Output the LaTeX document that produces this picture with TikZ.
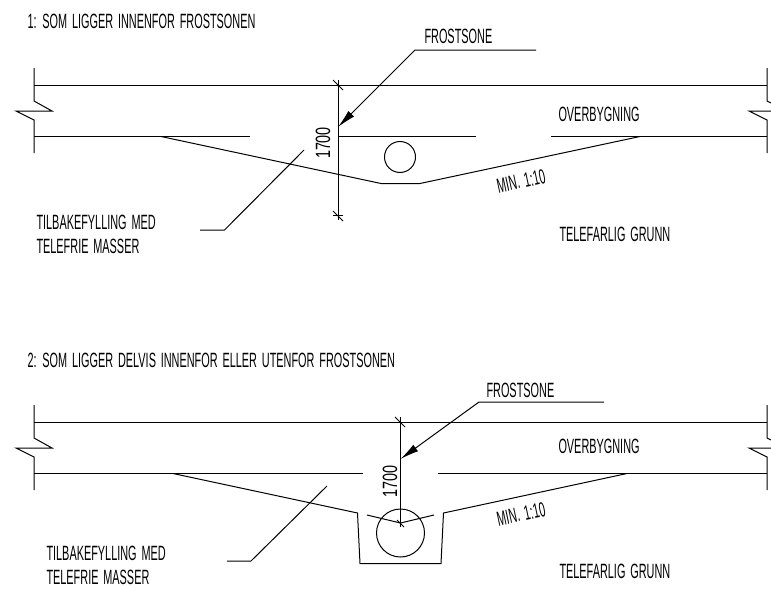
\documentclass[tikz,border=0pt]{standalone}
\usepackage{fontspec}
\newfontfamily\cadfont[FakeStretch=0.527,WordSpace=1.6]{Liberation Sans}
\usetikzlibrary{arrows.meta}
\tikzset{every picture/.style={line width=0.75pt}}
\tikzset{
  cadtext/.style={anchor=north west,inner sep=0pt,font=\cadfont\fontsize{15.5}{15.5}\selectfont},
  cadturned/.style={anchor=center,inner sep=0pt,font=\cadfont\fontsize{15.5}{15.5}\selectfont},
  leader/.style={-{Latex[length=14pt,width=6pt]}}
}

\begin{document}
\begin{tikzpicture}[x=0.75pt,y=0.75pt,yscale=-1,xscale=1]
\useasboundingbox (0,0) rectangle (771,589);

%Break lines, upper section
\draw (34,68) -- (34,101) -- (52,111) -- (16,111) -- (34,120) -- (34,153);
\draw (771,103) -- (767,101) -- (767,68);
\draw (771,111) -- (749,111) -- (767,120) -- (767,153);
%Straight Lines
\draw (34,85) -- (767,85);
\draw (34,136.5) -- (250,136.5);
\draw (338,136.5) -- (476,136.5);
\draw (551,136.5) -- (767,136.5);
%Trench
\draw (161,136.5) -- (381,183.5) -- (420,183.5) -- (640,136.5);
%Shape: Circle
\draw (400,157) circle (15.5);
%Dimension
\draw (338,80) -- (338,220);
\draw (333,80) -- (343,90);
\draw (333,211) -- (343,221);
\draw (333,215.5) -- (343,215.5);
%Leaders
\draw [leader] (536,50) -- (415,50) -- (338,127);
\draw (200,230) -- (224.5,230) -- (304,150);

%Break lines, lower section
\draw (34,405) -- (34,438) -- (52,448) -- (16,448) -- (34,457) -- (34,490);
\draw (771,440) -- (767,438) -- (767,405);
\draw (771,448) -- (749,448) -- (767,457) -- (767,490);
%Straight Lines
\draw (34,422.5) -- (767,422.5);
\draw (34,473.5) -- (363,473.5);
\draw (438,473.5) -- (767,473.5);
%Trench
\draw (173,473.5) -- (357.5,513) -- (360,563.5) -- (441,563.5) -- (443.5,513) -- (627,473.5);
\draw (367,515) -- (400.5,523) -- (434,515);
%Shape: Circle
\draw (400.5,533) circle (24);
%Dimension
\draw (400.5,417) -- (400.5,527);
\draw (395,417) -- (405,427);
\draw (397,520) -- (404,527);
%Leaders
\draw [leader] (604,402) -- (479,402) -- (400.5,459);
\draw (227,561) -- (251,561) -- (327,486);

% Text Node
\draw (27,13.5) node (titleone) [cadtext] {1: SOM LIGGER INNENFOR FROSTSONEN};
\draw (424,29) node (frostone) [cadtext] {FROSTSONE};
\draw (558,107) node (overone) [cadtext] {OVERBYGNING};
\draw (559,227) node (groundone) [cadtext] {TELEFARLIG GRUNN};
\draw (36,214.5) node (fillonea) [cadtext] {TILBAKEFYLLING MED};
\draw (36,238.5) node (filloneb) [cadtext] {TELEFRIE MASSER};
\draw (323,143) node (dimone) [cadturned,rotate=90,xscale=1.32] {1700};
\draw (521,181) node (slopeone) [cadturned,rotate=12] {MIN. 1:10};

% Text Node
\draw (27,352.5) node (titletwo) [cadtext] {2: SOM LIGGER DELVIS INNENFOR ELLER UTENFOR FROSTSONEN};
\draw (486,382.5) node (frosttwo) [cadtext] {FROSTSONE};
\draw (558,438.5) node (overtwo) [cadtext] {OVERBYGNING};
\draw (559,563.5) node (groundtwo) [cadtext] {TELEFARLIG GRUNN};
\draw (46,546) node (filltwoa) [cadtext] {TILBAKEFYLLING MED};
\draw (46,569.5) node (filltwob) [cadtext] {TELEFRIE MASSER};
\draw (390,481.5) node (dimtwo) [cadturned,rotate=90,xscale=1.32] {1700};
\draw (521,514) node (slopetwo) [cadturned,rotate=12] {MIN. 1:10};

\end{tikzpicture}
\end{document}
